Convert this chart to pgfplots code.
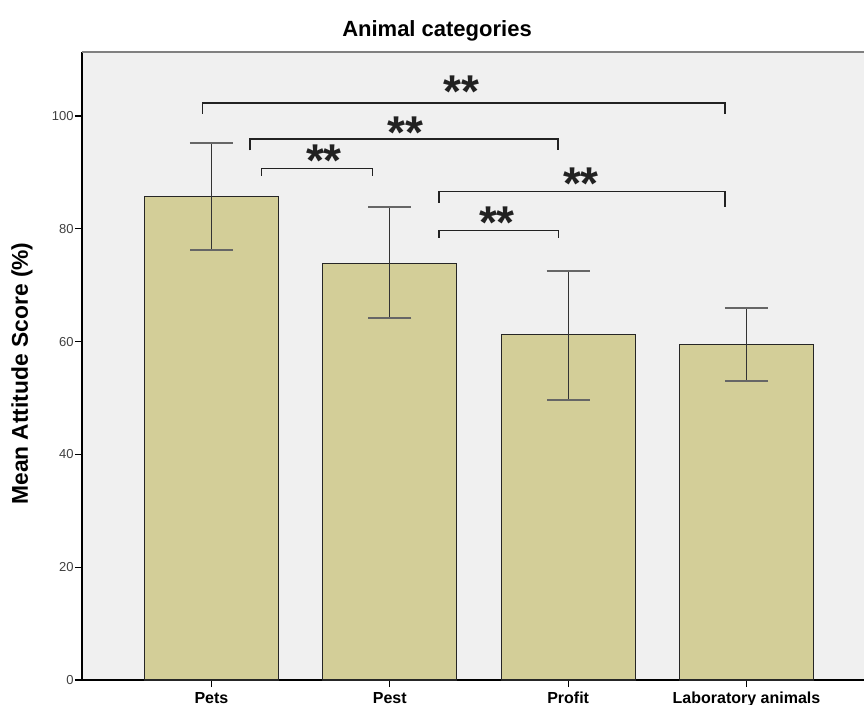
\documentclass[border=0pt]{standalone}
\usepackage{pgfplots}
\pgfplotsset{compat=1.18}
\usepackage{fontspec}
\setmainfont{Liberation Sans}
\definecolor{bg}{RGB}{240,240,240}
\definecolor{barfill}{RGB}{211,206,152}
\definecolor{brk}{RGB}{34,34,34}
\begin{document}
\begin{tikzpicture}
\begin{axis}[
  scale only axis,
  width=391pt, height=314pt,
  xmin=-0.726, xmax=3.659,
  ymin=0, ymax=111.35,
  axis background/.style={fill=bg},
  axis x line*=bottom, axis y line*=left,
  axis line style={black, line width=0.6pt},
  xtick={0,1,2,3},
  xticklabels={Pets,Pest,Profit,Laboratory animals},
  ytick={0,20,40,60,80,100},
  tick align=outside,
  major tick length=3.5pt,
  tick style={black, line width=0.6pt},
  xticklabel style={font=\fontsize{8}{9.6}\selectfont\bfseries, anchor=base, yshift=-8pt, inner sep=0pt},
  yticklabel style={font=\fontsize{6.5}{7.8}\selectfont, text=black!75, anchor=east, inner sep=0pt, xshift=-0.5pt},
  /pgf/number format/assume math mode=true,
  clip=false,
]
\addplot[ybar, bar width=67pt, fill=barfill, draw=black!85, line width=0.6pt,
  error bars/.cd, y dir=both, y explicit,
  error bar style={line width=0.6pt, draw=black!80},
  error mark=|,
  error mark options={mark size=10.8pt, line width=1pt, draw=black!60}]
  table[x=x, y=y, y error plus=ep, y error minus=em] {
x y ep em
0 85.7 9.5 9.5
1 73.9 9.9 9.8
2 61.2 11.4 11.5
3 59.5 6.4 6.5
};
\coordinate (SW) at (rel axis cs:0,0);
\coordinate (NE) at (rel axis cs:1,1);
\draw[black!50, line width=1pt] (rel axis cs:0,1) -- (rel axis cs:1,1);
% significance brackets
\draw[brk, line width=0.75pt] (axis cs:-0.049,100.4) -- (axis cs:-0.049,102.3) -- (axis cs:2.88,102.3) -- (axis cs:2.88,100.3);
\draw[brk, line width=0.75pt] (axis cs:0.216,93.9) -- (axis cs:0.216,95.9) -- (axis cs:1.943,95.9) -- (axis cs:1.943,93.9);
\draw[brk, line width=0.75pt] (axis cs:0.281,89.4) -- (axis cs:0.281,90.7) -- (axis cs:0.904,90.7) -- (axis cs:0.904,89.4);
\draw[brk, line width=0.75pt] (axis cs:1.277,84.6) -- (axis cs:1.277,86.6) -- (axis cs:2.88,86.6) -- (axis cs:2.88,83.9);
\draw[brk, line width=0.75pt] (axis cs:1.277,78.4) -- (axis cs:1.277,79.7) -- (axis cs:1.945,79.7) -- (axis cs:1.945,78.4);
\tikzset{stars/.style={anchor=base, font=\fontsize{23}{27}\selectfont\bfseries, inner sep=0pt, yshift=-11.5pt, text=brk}}
\node[stars] at (axis cs:1.40,105.5) {**};
\node[stars] at (axis cs:1.09,98.4) {**};
\node[stars] at (axis cs:0.631,93.3) {**};
\node[stars] at (axis cs:2.072,89.2) {**};
\node[stars] at (axis cs:1.601,82.4) {**};
% title and y label
\node[anchor=base, font=\fontsize{11}{13}\selectfont\bfseries, yshift=8pt] at (rel axis cs:0.454,1) {Animal categories};
\node[xshift=-27pt, rotate=90, anchor=base, font=\fontsize{11.4}{13.5}\selectfont\bfseries] at (rel axis cs:0,0.488) {Mean Attitude Score (\%)};
\end{axis}
\pgfresetboundingbox
\path[use as bounding box] ([shift={(-41pt,-12pt)}]SW) rectangle ([shift={(0pt,26pt)}]NE);
\end{tikzpicture}
\end{document}
